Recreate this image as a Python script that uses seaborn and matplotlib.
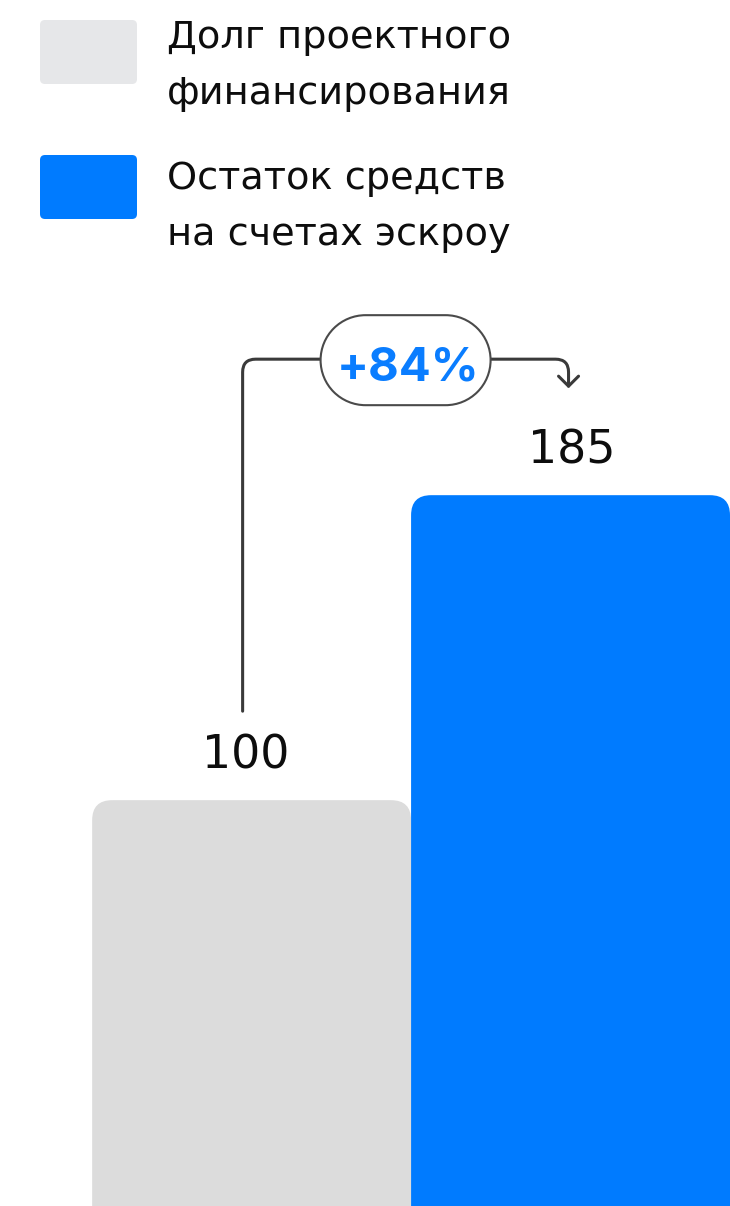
import matplotlib
matplotlib.use("Agg")
import numpy as np
import pandas as pd
import seaborn as sns
import matplotlib.pyplot as plt
from matplotlib.patches import FancyBboxPatch, PathPatch
from matplotlib.path import Path
from matplotlib.transforms import IdentityTransform

# Series shown as two adjacent bars
categories = ["Долг проектного\nфинансирования", "Остаток средств\nна счетах эскроу"]
values = [100, 185]
value_labels = ["100", "185"]
change_label = "+84%"

bar_colors = ["#DCDCDC", "#007BFF"]
swatch_colors = ["#E6E7E9", "#007BFF"]
ink = "#0D0D0D"
accent = "#0A7DFF"
line_color = "#3A3A3A"

W, H, DPI = 730, 1206, 100

sns.set_theme(style="white")
plt.rcParams["font.family"] = ["DejaVu Sans"]
pct_font = ["Inter", "DejaVu Sans"]

fig = plt.figure(figsize=(W / DPI, H / DPI), dpi=DPI)
fig.patch.set_facecolor("white")
ax = fig.add_axes([0, 0, 1, 1])

df = pd.DataFrame({"series": categories, "value": values})
sns.barplot(data=df, x="series", y="value", hue="series", palette=bar_colors,
            saturation=1, width=1.0, legend=False, ax=ax)
ax.set_xlim(-0.789, 1.5)
ax.set_ylim(-13.1, 323.0)
ax.axis("off")

ident = IdentityTransform()


def to_px(x, y):
    return ax.transData.transform((x, y))


# Replace the plain rectangles with rounded-top bars running off the bottom edge
tops = []
for bar in list(ax.patches):
    x0, w, h = bar.get_x(), bar.get_width(), bar.get_height()
    left, top = to_px(x0, h)
    right, _ = to_px(x0 + w, h)
    color = bar.get_facecolor()
    bar.set_visible(False)
    shape = FancyBboxPatch((left, -40), right - left, top + 40,
                           boxstyle="round,pad=0,rounding_size=20",
                           transform=ident, facecolor=color, edgecolor="none")
    fig.add_artist(shape)
    tops.append(((left + right) / 2, top))

# Value labels above each bar
label_dx = [-6, 1]
for (cx, top), lab, dx in zip(tops, value_labels, label_dx):
    fig.text((cx + dx) / W, (top + 32) / H, lab, ha="center", va="baseline",
             fontsize=33, color=ink)

# Legend: rounded swatches with two-line names
swatch_tops = [20, 155]
text_baselines = [48, 189]
for name, col, s_top, base in zip(categories, swatch_colors, swatch_tops, text_baselines):
    fig.add_artist(FancyBboxPatch((40, H - s_top - 64), 97, 64,
                                  boxstyle="round,pad=0,rounding_size=5",
                                  transform=ident, facecolor=col, edgecolor="none"))
    for j, line in enumerate(name.split("\n")):
        fig.text(167 / W, 1 - (base + j * 55.5) / H, line, ha="left", va="baseline",
                 fontsize=27.5, color=ink)

# Growth connector from the first bar to the second
x_left = tops[0][0] - 9
x_right = tops[1][0] - 2
y_link = tops[1][1] + 136
y_start = tops[0][1] + 89
y_tip = tops[1][1] + 109
r = 13
pill_w, pill_h = 170, 90
pill_cx = (x_left + x_right) / 2

M, L, C = Path.MOVETO, Path.LINETO, Path.CURVE3
left_path = Path([(x_left, y_start), (x_left, y_link - r), (x_left, y_link),
                  (x_left + r, y_link), (pill_cx - pill_w / 2, y_link)],
                 [M, L, C, C, L])
right_path = Path([(pill_cx + pill_w / 2, y_link), (x_right - r, y_link), (x_right, y_link),
                   (x_right, y_link - r), (x_right, y_tip)],
                  [M, L, C, C, L])
head_path = Path([(x_right - 10, y_tip + 10), (x_right, y_tip), (x_right + 10, y_tip + 10)],
                 [M, L, L])
for p in (left_path, right_path, head_path):
    fig.add_artist(PathPatch(p, transform=ident, facecolor="none", edgecolor=line_color,
                             lw=2.2, capstyle="round", joinstyle="round"))


# Stadium-shaped badge built from two true semicircles
def stadium(cx, cy, w, h):
    rr = h / 2
    right_arc = Path.arc(-90, 90)
    left_arc = Path.arc(90, 270)
    rv = right_arc.vertices * rr + [cx + w / 2 - rr, cy]
    lv = left_arc.vertices * rr + [cx - w / 2 + rr, cy]
    lcodes = left_arc.codes.copy()
    lcodes[0] = Path.LINETO
    verts = np.vstack([rv, lv, rv[:1]])
    codes = np.concatenate([right_arc.codes, lcodes, [Path.CLOSEPOLY]])
    return Path(verts, codes)


fig.add_artist(PathPatch(stadium(pill_cx, y_link - 1, pill_w, pill_h), transform=ident,
                         facecolor="white", edgecolor="#4A4A4A", lw=1.5, zorder=5))
fig.text((pill_cx + 2) / W, (y_link - 21) / H, change_label, ha="center", va="baseline",
         fontsize=34, fontweight="bold", color=accent, family=pct_font, zorder=6)

fig.savefig("out.png", dpi=DPI, facecolor="white")
